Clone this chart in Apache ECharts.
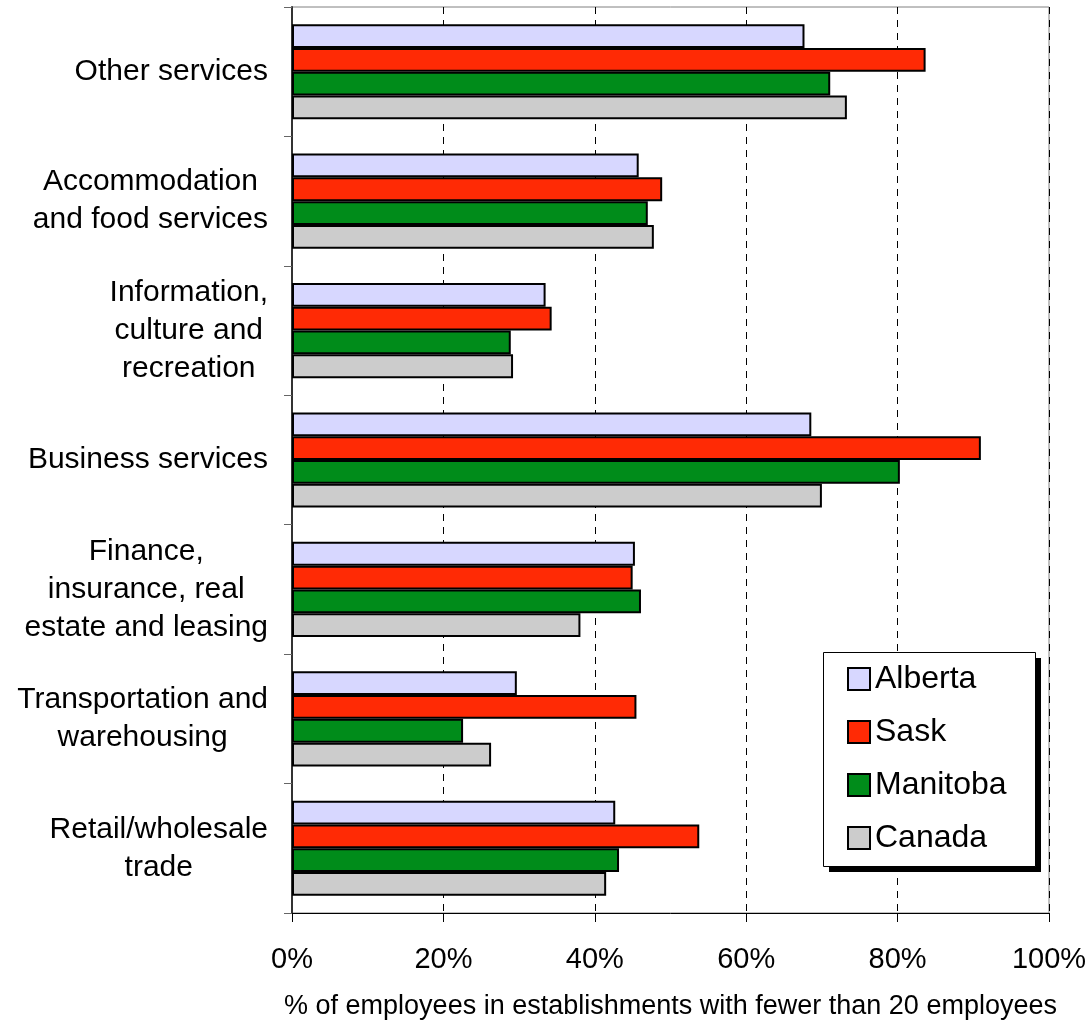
<!DOCTYPE html>
<html>
<head>
<meta charset="utf-8">
<script src="https://cdn.jsdelivr.net/npm/echarts@6/dist/echarts.min.js"></script>
<style>
  html, body { margin: 0; padding: 0; background: #fff; }
  #chart { width: 1089px; height: 1021px; }
</style>
</head>
<body>
<div id="chart"></div>
<script>
// Industry groups, listed top to bottom
const categories = [
  'Other services',
  'Accommodation\nand food services',
  'Information,\nculture and\nrecreation',
  'Business services',
  'Finance,\ninsurance, real\nestate and leasing',
  'Transportation and\nwarehousing',
  'Retail/wholesale\ntrade'
];

// Share of employees in establishments with fewer than 20 employees (%)
const alberta  = [67.7, 45.8, 33.5, 68.6, 45.3, 29.7, 42.7];
const sask     = [83.7, 48.9, 34.3, 91.0, 45.0, 45.5, 53.8];
const manitoba = [71.1, 47.0, 28.9, 80.3, 46.1, 22.6, 43.2];
const canada   = [73.3, 47.8, 29.2, 70.0, 38.1, 26.3, 41.5];

const xTicks = [0, 20, 40, 60, 80, 100];

const FONT = '"Liberation Sans", Arial, sans-serif';

const seriesDefs = [
  { name: 'Alberta',  data: alberta,  color: '#D7D7FF' },
  { name: 'Sask',     data: sask,     color: '#FF2A05' },
  { name: 'Manitoba', data: manitoba, color: '#008C1A' },
  { name: 'Canada',   data: canada,   color: '#CCCCCC' }
];

// Legend frame: white box with a hard black drop shadow
const legendBox = { x: 823, y: 652, w: 212, h: 214, shadow: 6 };

const chart = echarts.init(document.getElementById('chart'), null, { renderer: 'canvas' });

chart.setOption({
  backgroundColor: '#ffffff',
  animation: false,
  textStyle: { fontFamily: FONT, color: '#000' },
  grid: {
    left: 292, right: 40, top: 7, bottom: 108,
    outerBoundsMode: 'none',
    containLabel: false,
    show: true, borderColor: '#808080', borderWidth: 1, backgroundColor: 'transparent'
  },
  graphic: [
    {
      type: 'rect', z: 50, silent: true,
      shape: { x: legendBox.x + legendBox.shadow, y: legendBox.y + legendBox.shadow, width: legendBox.w, height: legendBox.h },
      style: { fill: '#000' }
    },
    {
      type: 'rect', z: 51, silent: true,
      shape: { x: legendBox.x + 0.5, y: legendBox.y + 0.5, width: legendBox.w, height: legendBox.h },
      style: { fill: '#fff', stroke: '#000', lineWidth: 1 }
    }
  ],
  legend: {
    orient: 'vertical',
    left: legendBox.x, top: legendBox.y,
    z: 60,
    padding: [11, 22, 11, 24],
    icon: 'rect',
    itemWidth: 22, itemHeight: 22, itemGap: 21, itemTextGap: 9,
    itemStyle: { borderColor: '#000', borderWidth: 2 },
    textStyle: { fontFamily: FONT, fontSize: 32, lineHeight: 32, color: '#000' },
    data: seriesDefs.map(s => s.name)
  },
  xAxis: {
    type: 'value',
    min: xTicks[0], max: xTicks[xTicks.length - 1], interval: 20,
    name: '% of employees in establishments with fewer than 20 employees',
    nameLocation: 'middle',
    nameGap: 80,
    nameTextStyle: { fontFamily: FONT, fontSize: 27, color: '#000' },
    axisLine: { show: true, lineStyle: { color: '#000', width: 1 } },
    axisTick: { show: true, length: 9, lineStyle: { color: '#000', width: 1 } },
    axisLabel: {
      margin: 32, fontFamily: FONT, fontSize: 29, color: '#000',
      formatter: v => v + '%'
    },
    splitLine: { show: true, lineStyle: { color: '#000', type: [7, 6], width: 1 } }
  },
  yAxis: {
    type: 'category',
    inverse: true,
    data: categories,
    axisLine: { show: true, lineStyle: { color: '#333', width: 2 } },
    axisTick: { show: true, length: 8, lineStyle: { color: '#666', width: 1 } },
    axisLabel: {
      margin: 24,
      align: 'right',
      formatter: v => v.split('\n').map(l => '{c|' + l + '}').join('\n'),
      rich: {
        c: { align: 'center', fontFamily: FONT, fontSize: 30, lineHeight: 38, color: '#000' }
      }
    },
    splitLine: { show: false }
  },
  series: seriesDefs.map(s => ({
    name: s.name,
    type: 'bar',
    data: s.data,
    barGap: '0%',
    barCategoryGap: '26.5%',
    itemStyle: { color: s.color, borderColor: '#000', borderWidth: 2 }
  }))
});
</script>
</body>
</html>
